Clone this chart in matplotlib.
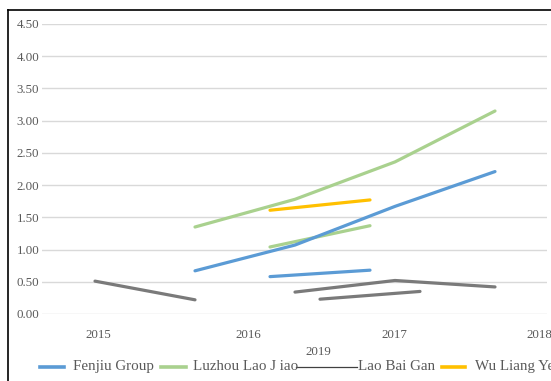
import matplotlib.pyplot as plt
from matplotlib.lines import Line2D

plt.rcParams['font.family'] = ['Liberation Serif', 'DejaVu Serif']

# Series, each drawn as several separate segments (x in category steps)
fenjiu_x = [[1, 2, 3, 4], [1.75, 2.75]]
fenjiu_y = [[0.67, 1.07, 1.67, 2.21], [0.58, 0.68]]

luzhou_x = [[1, 2, 3, 4], [1.75, 2.75]]
luzhou_y = [[1.35, 1.78, 2.36, 3.15], [1.04, 1.37]]

laobaigan_x = [[0, 1], [2, 3, 4], [2.25, 3.25]]
laobaigan_y = [[0.51, 0.22], [0.34, 0.52, 0.42], [0.23, 0.35]]

wuliangye_x = [[1.75, 2.75]]
wuliangye_y = [[1.61, 1.77]]

year_labels = ['2015', '2016', '2017', '2018']
year_pos = [0.03, 1.53, 2.99, 4.44]
extra_label = '2019'
extra_pos = 2.23

y_ticks = [0, 0.5, 1, 1.5, 2, 2.5, 3, 3.5, 4, 4.5]

legend_labels = ['Fenjiu Group', 'Luzhou Lao J iao', 'Lao Bai Gan', 'Wu Liang Ye']

blue = '#5B9BD5'
green = '#A9D18E'
gray = '#7A7A7A'
yellow = '#FFC000'
text_col = '#595959'

W, H = 551, 381
fig = plt.figure(figsize=(W / 100, H / 100), dpi=100)
ax = fig.add_axes([42 / W, 1 - 314 / H, (546.7 - 42) / W, 290 / H])

lw = 2.3
for xs, ys in zip(luzhou_x, luzhou_y):
    ax.plot(xs, ys, color=green, lw=lw, solid_capstyle='round', zorder=3)
for xs, ys in zip(fenjiu_x, fenjiu_y):
    ax.plot(xs, ys, color=blue, lw=lw, solid_capstyle='round', zorder=4)
for xs, ys in zip(laobaigan_x, laobaigan_y):
    ax.plot(xs, ys, color=gray, lw=lw, solid_capstyle='round', zorder=3)
for xs, ys in zip(wuliangye_x, wuliangye_y):
    ax.plot(xs, ys, color=yellow, lw=lw, solid_capstyle='round', zorder=3)

ax.set_xlim(-0.53, 4.517)
ax.set_ylim(0, 4.5)
ax.set_yticks(y_ticks)
ax.set_yticklabels([f'{v:.2f}' for v in y_ticks])
ax.set_xticks(year_pos)
ax.set_xticklabels(year_labels)
ax.set_xticks([extra_pos], minor=True)
ax.set_xticklabels([extra_label], minor=True)

ax.tick_params(axis='both', length=0, labelsize=9.3, labelcolor=text_col)
ax.tick_params(axis='y', pad=2)
ax.tick_params(axis='x', which='major', pad=11)
ax.tick_params(axis='x', which='minor', length=0, pad=23, labelsize=9.3, labelcolor=text_col)

ax.grid(axis='y', color='#D9D9D9', lw=1)
ax.set_axisbelow(True)
for s in ax.spines.values():
    s.set_visible(False)

# outer chart border (only left and top visible)
fig.add_artist(Line2D([8 / W, 8 / W], [0, 1 - 10 / H], color='black', lw=1.2))
fig.add_artist(Line2D([8 / W, 1], [1 - 10 / H, 1 - 10 / H], color='black', lw=1.2))

# legend along the bottom
ly = 1 - 366.5 / H
entries = [
    (40, 64, blue, 2.6, 73),
    (161, 186, green, 2.6, 193),
    (296, 357, '#404040', 0.9, 358),
    (442, 465, yellow, 2.6, 475),
]
for (x0, x1, c, w, tx), label in zip(entries, legend_labels):
    fig.add_artist(Line2D([x0 / W, x1 / W], [ly, ly], color=c, lw=w))
    fig.text(tx / W, ly, label, fontsize=10.8, color=text_col, va='center', ha='left')

fig.savefig('out.png', dpi=100)
